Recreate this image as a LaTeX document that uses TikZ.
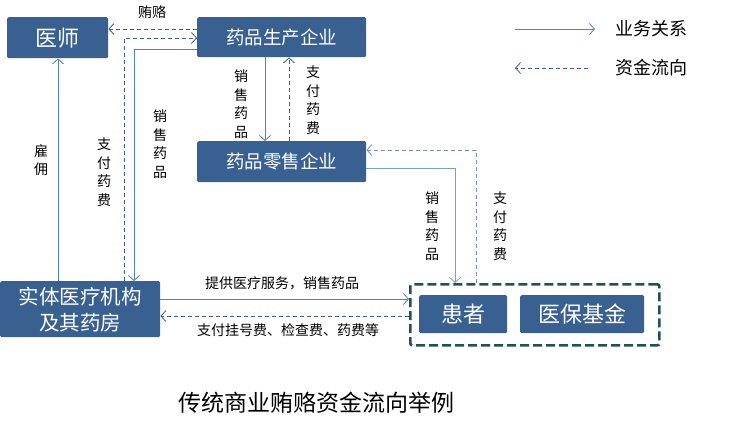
\documentclass[tikz,border=0pt]{standalone}
\usepackage{fontspec}
\setmainfont{Noto Sans CJK SC}
\usetikzlibrary{arrows.meta}
\definecolor{boxblue}{RGB}{56,96,145}
\definecolor{linkblue}{RGB}{79,129,189}
\definecolor{cashblue}{RGB}{58,95,150}
\definecolor{frameteal}{RGB}{35,78,92}
\tikzset{
  ent/.style={fill=boxblue, draw=none, rounded corners=1.5pt, text=white, inner sep=0pt, anchor=north west},
  biz/.style={draw=linkblue, line width=0.9pt, -{Straight Barb[length=5pt,width=11pt,line width=0.8pt]}},
  cash/.style={draw=cashblue, line width=0.9pt, dash pattern=on 4pt off 3pt, -{Straight Barb[length=5pt,width=11pt,line width=0.8pt]}},
  lbl/.style={font=\fontsize{14}{17}\selectfont, inner sep=0pt},
  vlbl/.style={font=\fontsize{14}{18.5}\selectfont, inner sep=0pt, align=center},
}
\begin{document}
\begin{tikzpicture}[x=1pt,y=-1pt]
\useasboundingbox (0,0) rectangle (741,429);
% boxes
\node[ent, minimum width=101pt, minimum height=41pt, font=\fontsize{22}{24}\selectfont] (doc) at (7,17) {医师};
\node[ent, minimum width=169pt, minimum height=40pt, font=\fontsize{18.5}{22}\selectfont] (mfr) at (197,17) {药品生产企业};
\node[ent, minimum width=169pt, minimum height=41pt, font=\fontsize{18.5}{22}\selectfont] (ret) at (197,141) {药品零售企业};
\node[ent, minimum width=160pt, minimum height=56pt, align=center, font=\fontsize{20.5}{26}\selectfont] (hosp) at (0,281) {实体医疗机构\\及其药房};
\node[ent, minimum width=88pt, minimum height=38pt, font=\fontsize{22}{24}\selectfont] (pat) at (419,295) {患者};
\node[ent, minimum width=124pt, minimum height=38pt, font=\fontsize{22}{24}\selectfont] (fund) at (520,295) {医保基金};
\node[draw=frameteal, line width=2.6pt, dash pattern=on 9pt off 4pt, rounded corners=2pt, minimum width=249pt, minimum height=61pt, inner sep=0pt, anchor=north west] (grp) at (409,283) {};

% coordinates for elbows
\coordinate (b1) at (124,38);
\coordinate (s1) at (134,49);
\coordinate (r1) at (455,168);
\coordinate (p1) at (476,150);

% bribery
\draw[cash] (mfr.west |- 0,29) -- (doc.east |- 0,29);
% hospital pays manufacturer
\draw[cash] (hosp.north -| b1) -- (b1) -- (mfr.west |- b1);
% manufacturer sells to hospital
\draw[biz] (mfr.west |- s1) -- (s1) -- (hosp.north -| s1);
% employment
\draw[biz] (hosp.north -| 58,0) -- (doc.south -| 58,0);
% manufacturer -> retailer
\draw[biz] (mfr.south -| 265,0) -- (ret.north -| 265,0);
\draw[cash] (ret.north -| 289,0) -- (mfr.south -| 289,0);
% retailer -> patients
\draw[biz, draw=linkblue!75] (ret.east |- r1) -- (r1) -- (grp.north -| r1);
\draw[cash, draw=cashblue!70] (grp.north -| p1) -- (p1) -- (ret.east |- p1);
% hospital <-> patients
\draw[biz] (hosp.east |- 0,299) -- (grp.west |- 0,299);
\draw[cash] (grp.west |- 0,316) -- (hosp.east |- 0,316);

% labels
\node[lbl] (lb1) at (152,12) {贿赂};
\node[vlbl] (lb2) at (41,160) {雇\\佣};
\node[vlbl] (lb3) at (104,172) {支\\付\\药\\费};
\node[vlbl] (lb4) at (160,144) {销\\售\\药\\品};
\node[vlbl] (lb5) at (241,104) {销\\售\\药\\品};
\node[vlbl] (lb6) at (313,100) {支\\付\\药\\费};
\node[vlbl] (lb7) at (432,226) {销\\售\\药\\品};
\node[vlbl] (lb8) at (500,226) {支\\付\\药\\费};
\node[lbl] (lb9) at (282,283) {提供医疗服务，销售药品};
\node[lbl] (lb10) at (288,330) {支付挂号费、检查费、药费等};

% legend
\coordinate (la) at (515,29);
\coordinate (lb) at (595,29);
\coordinate (lc) at (588,68);
\coordinate (ld) at (515,68);
\draw[biz] (la) -- (lb);
\draw[cash] (lc) -- (ld);
\node[font=\fontsize{18}{20}\selectfont, inner sep=0pt, anchor=west] (lg1) at (615,29) {业务关系};
\node[font=\fontsize{18}{20}\selectfont, inner sep=0pt, anchor=west] (lg2) at (615,68) {资金流向};

% title
\node[font=\fontsize{23}{26}\selectfont, inner sep=0pt] (title) at (316,403) {传统商业贿赂资金流向举例};
\end{tikzpicture}
\end{document}
